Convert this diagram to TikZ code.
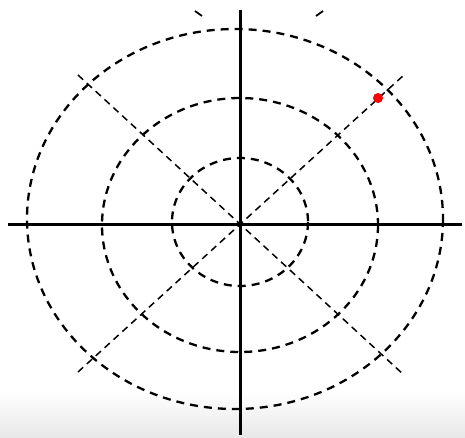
\documentclass[tikz,border=0pt]{standalone}
\usetikzlibrary{positioning}
\begin{document}
\begin{tikzpicture}[
  x=1pt,y=-1pt,
  axis/.style={line width=3pt},
  ring/.style={line width=2.3pt,dash pattern=on 8pt off 6pt},
  diag/.style={line width=1.5pt,dash pattern=on 7pt off 5pt},
  dot/.style={circle,fill=red,inner sep=0pt,minimum size=10pt}
]
\useasboundingbox (0,0) rectangle (465,437);
% faint grey band at the bottom
\shade[top color=white,bottom color=black!9] (0,392) rectangle (465,437);

% centre and axis ends
\coordinate (O) at (240,224);
\coordinate (xl) at (8,224);
\coordinate (xr) at (462,224);
\coordinate (yt) at (240,10);
\coordinate (yb) at (240,435);
\coordinate (d1a) at (78,75);
\coordinate (d1b) at (404,375);
\coordinate (d2a) at (78,372);
\coordinate (d2b) at (405,74);

% rings
\draw[ring] (235,219) ellipse [x radius=208,y radius=190];
\draw[ring] (240,225) ellipse [x radius=138,y radius=127];
\draw[ring] (240,222) ellipse [x radius=68,y radius=64];

% diagonals
\draw[diag] (d1a) -- (d1b);
\draw[diag] (d2a) -- (d2b);

% cut-off dashes at the top
\draw[line width=1.8pt] (195,11) -- (202,16);
\draw[line width=1.8pt] (316,16) -- (323,11);

% axes
\draw[axis] (xl) -- (xr);
\draw[axis] (yt) -- (yb);

\node[dot] (pt) at (378,98) {};
\end{tikzpicture}
\end{document}
